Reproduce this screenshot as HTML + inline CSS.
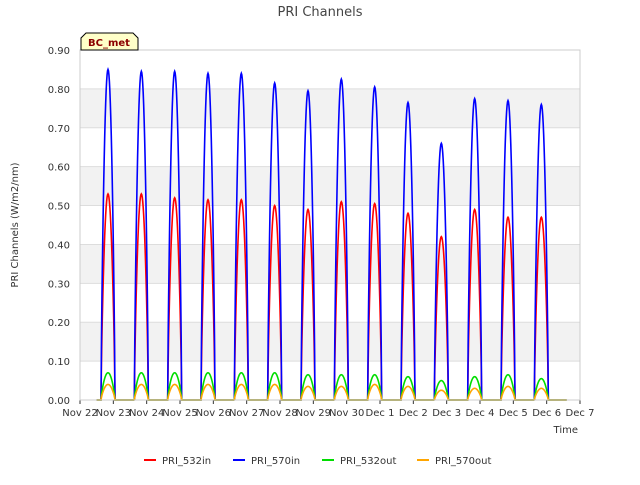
<!DOCTYPE html>
<html><head><meta charset="utf-8"><style>
body{margin:0;background:#fff;font-family:"Liberation Sans","DejaVu Sans",sans-serif}
</style></head><body>
<svg id="chart" width="640" height="480" xmlns="http://www.w3.org/2000/svg" font-family="DejaVu Sans, Liberation Sans, sans-serif">
<rect width="640" height="480" fill="#fff"/>
<text x="320" y="16" text-anchor="middle" font-size="13" fill="#444">PRI Channels</text>
<g id="grid"></g>
<g id="series"></g>
<g id="axes"></g>
<text transform="translate(18,225) rotate(-90)" text-anchor="middle" font-size="10" fill="#333">PRI Channels (W/m2/nm)</text>
<text x="578" y="433" text-anchor="end" font-size="10" fill="#333">Time</text>
<g>
<path d="M81,50 L81,38 L86,33 L133,33 L138,38 L138,50 Z" fill="#ffffc8" stroke="#000" stroke-width="1"/>
<text x="109" y="46" text-anchor="middle" font-size="10" font-weight="bold" fill="#8b0000">BC_met</text>
</g>
<g id="legend"></g>
</svg>
<script>
const xTickLabels=["Nov 22","Nov 23","Nov 24","Nov 25","Nov 26","Nov 27","Nov 28","Nov 29","Nov 30","Dec 1","Dec 2","Dec 3","Dec 4","Dec 5","Dec 6","Dec 7"];
const yTicks=[0,0.1,0.2,0.3,0.4,0.5,0.6,0.7,0.8,0.9];
const seriesNames=["PRI_532in","PRI_570in","PRI_532out","PRI_570out"];
const pri532in=[0.53,0.53,0.52,0.515,0.515,0.50,0.49,0.51,0.505,0.48,0.42,0.49,0.47,0.47];
const pri570in=[0.85,0.845,0.845,0.84,0.84,0.815,0.795,0.825,0.805,0.765,0.66,0.775,0.77,0.76];
const pri532out=[0.07,0.07,0.07,0.07,0.07,0.07,0.065,0.065,0.065,0.06,0.05,0.06,0.065,0.055];
const pri570out=[0.04,0.04,0.04,0.04,0.04,0.04,0.035,0.035,0.04,0.035,0.025,0.03,0.035,0.03];
const colors=["#ff0000","#0000ff","#00dd00","#ffa500"];
const NS="http://www.w3.org/2000/svg";
const X0=80,X1=580,Y0=400,Y1=50;
const xs=d=>X0+(d/15)*(X1-X0);
const ys=v=>Y0-(v/0.9)*(Y0-Y1);
function mk(t,a,p){const e=document.createElementNS(NS,t);for(const k in a)e.setAttribute(k,a[k]);p.appendChild(e);return e;}
const grid=document.getElementById('grid'),axes=document.getElementById('axes'),ser=document.getElementById('series'),leg=document.getElementById('legend');
for(let i=0;i<yTicks.length-1;i++){
 const r=mk('rect',{x:X0,y:ys(yTicks[i+1]),width:X1-X0,height:ys(yTicks[i])-ys(yTicks[i+1]),fill:i%2?'#f2f2f2':'#fff'},grid);
 
 
}
yTicks.forEach(v=>{
 const l=mk('line',{x1:X0,x2:X1,y1:ys(v),y2:ys(v),stroke:'#ddd'},grid);
 
 
 const t=mk('text',{x:X0-10,y:ys(v)+4,'text-anchor':'end','font-size':10,fill:'#333'},axes);
 t.textContent=v.toFixed(2);
 
 
});
xTickLabels.forEach((s,i)=>{
 const l=mk('line',{x1:xs(i),x2:xs(i),y1:Y0,y2:Y0+4,stroke:'#333'},axes);
 
 
 const t=mk('text',{x:xs(i),y:Y0+16,'text-anchor':'middle','font-size':10,fill:'#333'},axes);
 t.textContent=s;
 
 
});
const f=mk('rect',{x:X0,y:Y1,width:X1-X0,height:Y0-Y1,fill:'none',stroke:'#ccc'},axes);


const data=[pri532in,pri570in,pri532out,pri570out];
data.forEach((peaks,si)=>{
 let d=`M${xs(0.5)},${ys(0)}`;
 peaks.forEach((pk,di)=>{
  const c=di+1-0.16,h=0.21;
  d+=` L${xs(c-h)},${ys(0)}`;
  for(let k=0;k<=30;k++){const tt=c-h+2*h*k/30;d+=` L${xs(tt).toFixed(2)},${ys(pk*Math.pow(Math.sin(Math.PI*k/30),0.75)).toFixed(2)}`;}
 });
 d+=` L${xs(14.6)},${ys(0)}`;
 const p=mk('path',{d:d,fill:'none',stroke:colors[si],'stroke-width':1.6},ser);
 
 
});
const lx=[144,233,322,417];
seriesNames.forEach((n,i)=>{
 const g=mk('g',{},leg);
 
 
 mk('line',{x1:lx[i],x2:lx[i]+12,y1:460,y2:460,stroke:colors[i],'stroke-width':2},g);
 const t=mk('text',{x:lx[i]+18,y:464,'font-size':10,fill:'#333'},g);
 t.textContent=n;
});
</script>
</body></html>
